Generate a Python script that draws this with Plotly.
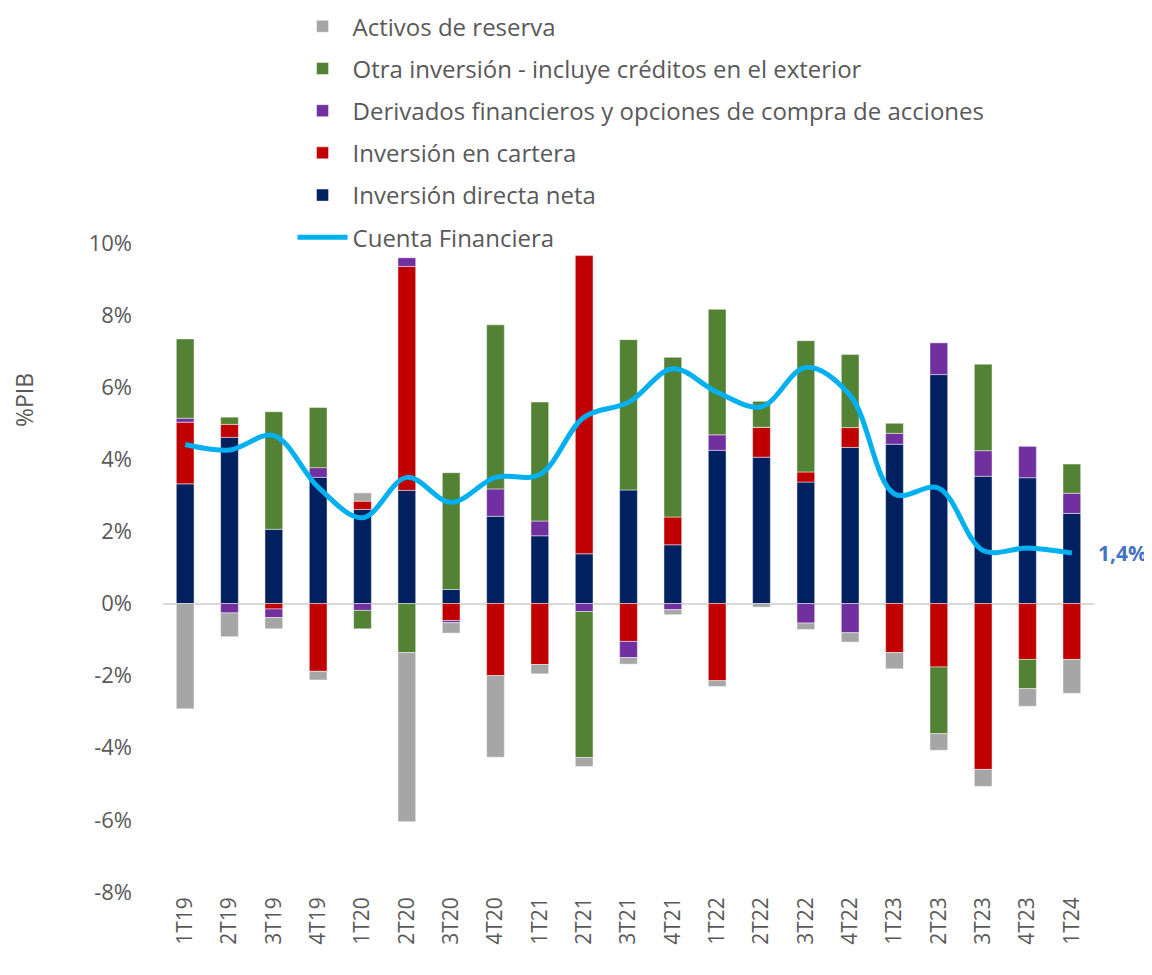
import plotly.graph_objects as go

# Trimestres
trimestres = ['1T19', '2T19', '3T19', '4T19', '1T20', '2T20', '3T20', '4T20', '1T21', '2T21', '3T21',
              '4T21', '1T22', '2T22', '3T22', '4T22', '1T23', '2T23', '3T23', '4T23', '1T24']

# Componentes de la cuenta financiera (% del PIB)
inv_directa = [3.32, 4.61, 2.06, 3.50, 2.61, 3.14, 0.39, 2.42, 1.88, 1.38, 3.15,
               1.63, 4.25, 4.06, 3.37, 4.33, 4.42, 6.35, 3.53, 3.49, 2.50]
inv_cartera = [1.71, 0.36, -0.15, -1.88, 0.23, 6.21, -0.47, -2.00, -1.69, 8.27, -1.05,
               0.77, -2.14, 0.83, 0.28, 0.55, -1.36, -1.76, -4.60, -1.55, -1.55]
derivados = [0.11, -0.26, -0.24, 0.27, -0.19, 0.24, -0.06, 0.76, 0.41, -0.22, -0.45,
             -0.17, 0.43, 0.0, -0.54, -0.81, 0.30, 0.88, 0.71, 0.87, 0.56]
otra_inv = [2.20, 0.20, 3.26, 1.67, -0.51, -1.36, 3.24, 4.55, 3.30, -4.05, 4.17,
            4.43, 3.48, 0.72, 3.64, 2.03, 0.28, -1.85, 2.40, -0.81, 0.81]
activos_res = [-2.92, -0.66, -0.31, -0.24, 0.23, -4.69, -0.29, -2.26, -0.26, -0.25, -0.18,
               -0.14, -0.16, -0.10, -0.18, -0.26, -0.45, -0.46, -0.47, -0.49, -0.94]
cuenta_fin = [4.41, 4.26, 4.66, 3.23, 2.38, 3.50, 2.81, 3.50, 3.58, 5.17, 5.58,
              6.51, 5.86, 5.46, 6.55, 5.77, 3.04, 3.20, 1.47, 1.54, 1.40]

# Eje Y
ticks_y = [-8, -6, -4, -2, 0, 2, 4, 6, 8, 10]
etiquetas_y = ['-8%', '-6%', '-4%', '-2%', '0%', '2%', '4%', '6%', '8%', '10%']

fuente = 'Open Sans'
gris_txt = '#595959'
borde = dict(color='rgba(255,255,255,0.45)', width=1)

fig = go.Figure()

series = [
    ('Inversión directa neta', inv_directa, '#002060', 5),
    ('Inversión en cartera', inv_cartera, '#c00000', 4),
    ('Derivados financieros y opciones de compra de acciones', derivados, '#7030a0', 3),
    ('Otra inversión - incluye créditos en el exterior', otra_inv, '#548235', 2),
    ('Activos de reserva', activos_res, '#a6a6a6', 1),
]
for nombre, valores, color, rango in series:
    fig.add_trace(go.Bar(x=trimestres, y=valores, name=nombre,
                         marker=dict(color=color, line=borde),
                         legendgroup=nombre, legendrank=rango))

fig.add_trace(go.Scatter(x=trimestres, y=cuenta_fin, name='Cuenta Financiera',
                         mode='lines', line=dict(color='#00b0f0', width=5, shape='spline', smoothing=1),
                         legendgroup='cf', legendrank=6))

# Etiqueta del último dato
fig.add_annotation(x=trimestres[-1], y=cuenta_fin[-1], text='<b>1,4%</b>', showarrow=False,
                   xanchor='left', xshift=24, font=dict(size=21, color='#4472c4', family=fuente))

# Título del eje
fig.add_annotation(x=(24 - 163) / 931, xref='paper', y=(884 - 392) / 649, yref='paper', text='%PIB',
                   xanchor='center', yanchor='middle', textangle=-90, showarrow=False,
                   font=dict(size=23, color=gris_txt, family=fuente))

fig.update_layout(
    width=1152, height=975,
    barmode='relative', bargap=0.6,
    plot_bgcolor='white', paper_bgcolor='white',
    margin=dict(l=155, r=66, t=235, b=91, autoexpand=False),
    font=dict(family=fuente, color=gris_txt),
    legend=dict(xref='container', yref='paper', x=0.247, y=1.368, yanchor='top', xanchor='left',
                traceorder='grouped', tracegroupgap=8, itemwidth=50,
                font=dict(size=24, color=gris_txt, family=fuente), bgcolor='rgba(0,0,0,0)'),
    xaxis=dict(range=[-0.5, 20.5], tickangle=-90, tickfont=dict(size=21, color=gris_txt),
               showgrid=False, showline=False, ticks=''),
    yaxis=dict(range=[-8, 10], tickvals=ticks_y, ticktext=etiquetas_y, showgrid=False,
               zeroline=True, zerolinecolor='#d9d9d9', zerolinewidth=2,
               tickfont=dict(size=22, color=gris_txt), ticks='', ticklabelstandoff=30),
)

fig.write_html("out.html")
